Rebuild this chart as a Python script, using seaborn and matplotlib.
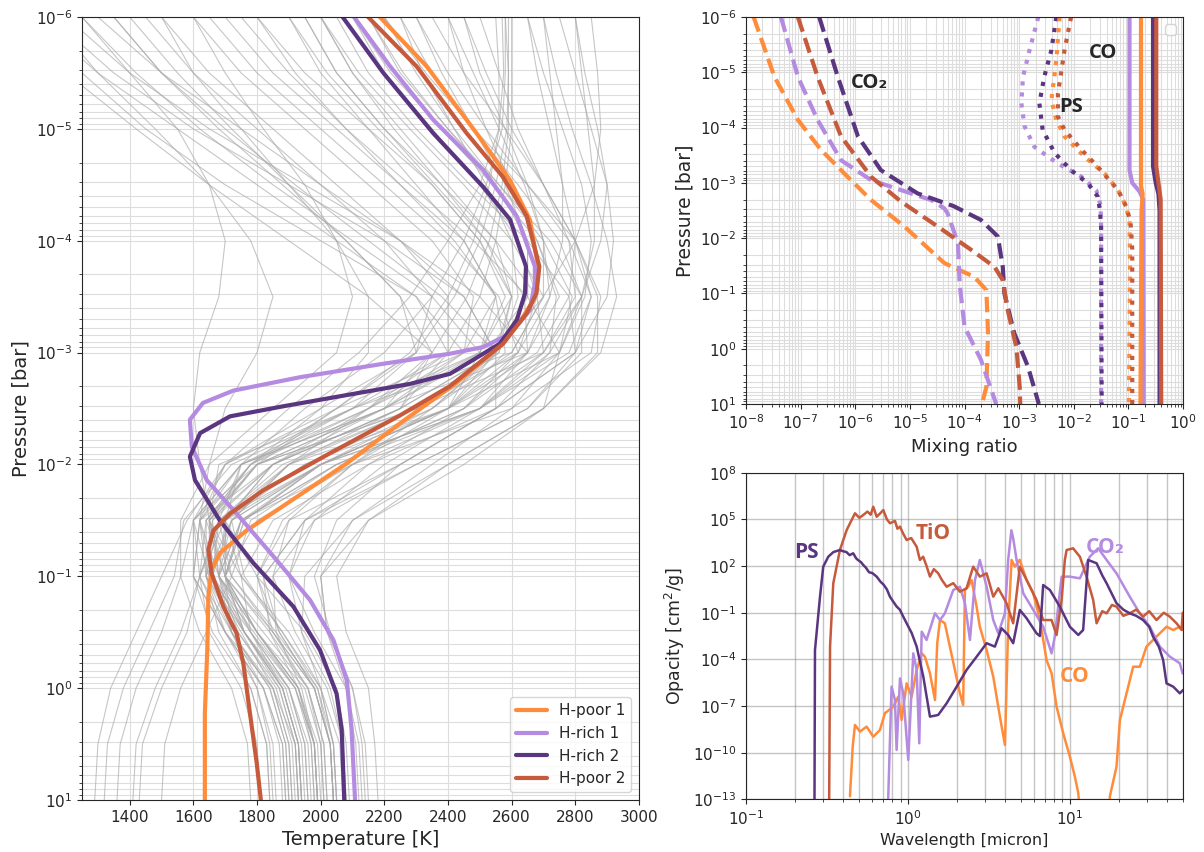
import numpy as np
import pandas as pd
import seaborn as sns
import matplotlib.pyplot as plt
from matplotlib.ticker import LogLocator, NullLocator, NullFormatter

# temperature-pressure profiles (log10 P [bar], T [K])
poor1_logp = [-6, -5.56, -4.96, -4.54, -4.19, -3.77, -3.47, -3.32, -3.08, -2.73, -2.40, -2.01, -1.71, -1.41, -1.21, -1.06, -0.82, -0.37, 0.23, 1.0]
poor1_T = [2186, 2333, 2490, 2595, 2657, 2683, 2668, 2636, 2573, 2427, 2265, 2082, 1925, 1767, 1684, 1657, 1647, 1644, 1636, 1636]
rich1_logp = [-6, -5.56, -5.08, -4.63, -4.22, -3.77, -3.62, -3.38, -3.17, -3.05, -2.99, -2.90, -2.78, -2.66, -2.55, -2.40, -2.16, -1.86, -1.56, -1.18, -0.79, -0.43, -0.07, 0.37, 1.0]
rich1_T = [2105, 2218, 2354, 2511, 2616, 2673, 2673, 2657, 2595, 2511, 2406, 2196, 1935, 1725, 1630, 1589, 1595, 1642, 1736, 1851, 1966, 2040, 2082, 2097, 2108]
rich2_logp = [-6, -5.5, -4.96, -4.48, -4.19, -3.77, -3.53, -3.29, -3.08, -2.81, -2.72, -2.62, -2.52, -2.43, -2.28, -2.07, -1.86, -1.5, -1.12, -0.73, -0.34, 0.05, 0.37, 1.0]
rich2_T = [2069, 2197, 2354, 2511, 2595, 2645, 2642, 2616, 2563, 2406, 2280, 2081, 1882, 1715, 1621, 1589, 1605, 1683, 1788, 1914, 1998, 2050, 2066, 2074]
poor2_logp = [-6, -5.56, -4.96, -4.57, -4.22, -3.77, -3.53, -3.35, -3.08, -2.70, -2.43, -2.10, -1.77, -1.56, -1.41, -1.24, -1.03, -0.73, -0.49, -0.22, 0.23, 0.67, 1.0]
poor2_T = [2149, 2301, 2459, 2573, 2647, 2687, 2678, 2647, 2573, 2406, 2244, 2029, 1820, 1715, 1663, 1647, 1657, 1694, 1736, 1757, 1778, 1799, 1812]

# background ensemble of profiles, sampled every half decade
grey_logp = [-6, -5.5, -5, -4.5, -4, -3.5, -3, -2.5, -2, -1.5, -1, -0.5, 0, 0.5, 1]
grey_profiles = [
    [2100, 2220, 2380, 2540, 2680, 2750, 2650, 2200, 1750, 1700, 1800, 1950, 2050, 2080, 2090],
    [2000, 2120, 2280, 2450, 2600, 2700, 2600, 2100, 1680, 1650, 1750, 1900, 2000, 2040, 2050],
    [2250, 2350, 2480, 2620, 2750, 2820, 2750, 2400, 1900, 1720, 1760, 1880, 1990, 2030, 2040],
    [1900, 2020, 2180, 2350, 2500, 2600, 2550, 2250, 1850, 1650, 1650, 1750, 1850, 1900, 1910],
    [2200, 2330, 2480, 2650, 2800, 2880, 2850, 2600, 2100, 1750, 1700, 1800, 1950, 2000, 2010],
    [2350, 2450, 2580, 2700, 2800, 2850, 2780, 2500, 2000, 1680, 1620, 1700, 1850, 1920, 1930],
    [1800, 1950, 2150, 2350, 2500, 2580, 2500, 2100, 1750, 1620, 1640, 1760, 1900, 1960, 1970],
    [2500, 2560, 2620, 2700, 2780, 2800, 2700, 2300, 1800, 1600, 1600, 1700, 1820, 1880, 1890],
    [1150, 1350, 1600, 1900, 2200, 2450, 2550, 2300, 1800, 1650, 1700, 1850, 1980, 2030, 2040],
    [1100, 1250, 1450, 1700, 2000, 2300, 2450, 2200, 1750, 1600, 1650, 1780, 1900, 1950, 1960],
    [1200, 1400, 1650, 1950, 2250, 2500, 2650, 2500, 2000, 1700, 1680, 1780, 1920, 1980, 1990],
    [1000, 1200, 1420, 1650, 1900, 2150, 2350, 2250, 1850, 1620, 1600, 1700, 1820, 1880, 1890],
    [1300, 1500, 1750, 2000, 2250, 2450, 2550, 2400, 1950, 1680, 1640, 1700, 1800, 1850, 1860],
    [1150, 1300, 1480, 1650, 1780, 1850, 1800, 1700, 1650, 1620, 1680, 1820, 1960, 2010, 2020],
    [1250, 1400, 1550, 1650, 1700, 1680, 1620, 1600, 1620, 1650, 1720, 1860, 1990, 2040, 2050],
    [1400, 1550, 1720, 1900, 2080, 2250, 2350, 2200, 1850, 1700, 1750, 1880, 2000, 2060, 2070],
    [2580, 2580, 2570, 2520, 2450, 2350, 2200, 1950, 1750, 1680, 1720, 1850, 1980, 2030, 2040],
    [2590, 2590, 2585, 2550, 2500, 2420, 2300, 2050, 1800, 1660, 1680, 1800, 1930, 1990, 2000],
    [2570, 2575, 2560, 2500, 2400, 2280, 2120, 1900, 1700, 1620, 1660, 1790, 1920, 1980, 1990],
    [2600, 2600, 2600, 2580, 2550, 2500, 2400, 2150, 1850, 1700, 1700, 1800, 1920, 1970, 1980],
    [2750, 2800, 2850, 2900, 2920, 2900, 2800, 2550, 2250, 2050, 1980, 2030, 2100, 2130, 2140],
    [2800, 2830, 2870, 2900, 2880, 2820, 2700, 2450, 2150, 1950, 1900, 1980, 2080, 2120, 2130],
    [2700, 2740, 2790, 2850, 2900, 2930, 2880, 2700, 2400, 2150, 2050, 2080, 2150, 2170, 2180],
    [2650, 2700, 2760, 2820, 2850, 2830, 2750, 2600, 2350, 2100, 2000, 2020, 2080, 2110, 2120],
    [2850, 2870, 2880, 2860, 2800, 2700, 2550, 2350, 2100, 1900, 1850, 1920, 2020, 2070, 2080],
    [1700, 1850, 2050, 2250, 2450, 2550, 2450, 2050, 1700, 1580, 1500, 1420, 1340, 1300, 1290],
    [2000, 2100, 2250, 2400, 2550, 2600, 2500, 2150, 1750, 1600, 1560, 1500, 1420, 1370, 1360],
    [1500, 1650, 1850, 2050, 2250, 2400, 2400, 2100, 1720, 1570, 1540, 1460, 1380, 1330, 1320],
    [2150, 2250, 2400, 2550, 2650, 2650, 2520, 2200, 1800, 1640, 1620, 1580, 1500, 1440, 1430],
    [1600, 1750, 1950, 2150, 2350, 2480, 2450, 2150, 1780, 1640, 1700, 1840, 1960, 2000, 2010],
    [2300, 2380, 2480, 2580, 2650, 2650, 2550, 2250, 1850, 1660, 1640, 1720, 1840, 1890, 1900],
    [1950, 2050, 2200, 2380, 2550, 2680, 2700, 2500, 2050, 1750, 1700, 1780, 1900, 1950, 1960],
    [2450, 2500, 2580, 2650, 2700, 2700, 2600, 2350, 1950, 1700, 1620, 1650, 1750, 1800, 1810],
    [1350, 1500, 1700, 1920, 2150, 2380, 2550, 2550, 2250, 1900, 1800, 1870, 1980, 2030, 2040],
    [1750, 1900, 2080, 2280, 2480, 2650, 2750, 2700, 2450, 2150, 2000, 2020, 2100, 2140, 2150],
    [2050, 2150, 2300, 2470, 2650, 2780, 2800, 2650, 2300, 1950, 1820, 1870, 1980, 2030, 2040],
    [1450, 1600, 1800, 2000, 2200, 2350, 2300, 2000, 1700, 1600, 1620, 1720, 1850, 1900, 1910],
    [2400, 2480, 2560, 2640, 2700, 2720, 2650, 2400, 2000, 1750, 1680, 1720, 1820, 1870, 1880],
    [1600, 1700, 1820, 1950, 2050, 2100, 2050, 1850, 1650, 1560, 1560, 1620, 1720, 1770, 1780],
    [2200, 2300, 2420, 2560, 2700, 2790, 2750, 2500, 2100, 1800, 1700, 1720, 1800, 1840, 1850],
    [1900, 2000, 2150, 2300, 2450, 2550, 2500, 2200, 1800, 1650, 1680, 1800, 1930, 1980, 1990],
    [2300, 2400, 2520, 2650, 2780, 2850, 2800, 2550, 2150, 1850, 1750, 1780, 1880, 1930, 1940],
    [1250, 1420, 1620, 1850, 2100, 2350, 2500, 2400, 2000, 1720, 1660, 1720, 1840, 1890, 1900],
    [2550, 2560, 2560, 2530, 2480, 2400, 2280, 2050, 1780, 1640, 1640, 1740, 1870, 1920, 1930],
    [2650, 2680, 2720, 2760, 2800, 2780, 2680, 2400, 2000, 1760, 1700, 1760, 1880, 1930, 1940],
    [2100, 2200, 2350, 2500, 2620, 2680, 2620, 2300, 1880, 1680, 1660, 1760, 1890, 1940, 1950],
    [1100, 1300, 1550, 1800, 2050, 2300, 2400, 2250, 1900, 1700, 1700, 1800, 1930, 1980, 1990],
    [2400, 2450, 2520, 2600, 2680, 2740, 2720, 2550, 2250, 1950, 1820, 1840, 1930, 1970, 1980],
    [1800, 1920, 2080, 2250, 2420, 2550, 2580, 2400, 2000, 1720, 1640, 1680, 1780, 1830, 1840],
    [2000, 2100, 2230, 2380, 2520, 2600, 2560, 2300, 1900, 1680, 1620, 1560, 1480, 1420, 1410],
    [2700, 2720, 2740, 2760, 2760, 2720, 2620, 2400, 2100, 1880, 1800, 1850, 1960, 2010, 2020],
    [1500, 1600, 1750, 1900, 2050, 2150, 2150, 2000, 1780, 1650, 1660, 1760, 1880, 1930, 1940],
    [2250, 2320, 2420, 2520, 2600, 2620, 2560, 2350, 2000, 1760, 1700, 1760, 1870, 1920, 1930],
    [1650, 1800, 2000, 2200, 2400, 2560, 2620, 2450, 2050, 1750, 1680, 1740, 1860, 1910, 1920],
    [2580, 2590, 2590, 2570, 2530, 2460, 2350, 2150, 1900, 1720, 1680, 1760, 1880, 1930, 1940],
    [2800, 2820, 2840, 2860, 2860, 2820, 2720, 2500, 2200, 1980, 1900, 1940, 2030, 2070, 2080],
    [2150, 2260, 2400, 2560, 2720, 2820, 2820, 2650, 2300, 1980, 1850, 1860, 1940, 1980, 1990],
    [1350, 1500, 1680, 1880, 2080, 2250, 2300, 2100, 1780, 1620, 1600, 1660, 1780, 1830, 1840],
    [2450, 2520, 2600, 2700, 2800, 2870, 2870, 2700, 2400, 2100, 1950, 1940, 2000, 2040, 2050],
    [1950, 2050, 2200, 2360, 2520, 2640, 2650, 2450, 2050, 1780, 1720, 1640, 1560, 1510, 1500],
]

# mixing ratios (log10 X, log10 P)
co2_poor1_x = [-7.86, -7.48, -7.05, -6.63, -6.14, -5.71, -5.10, -4.37, -3.82, -3.60, -3.57, -3.60, -3.68]
co2_poor1_p = [-6, -4.92, -4.14, -3.6, -3.11, -2.69, -2.21, -1.55, -1.30, -1.06, -0.28, 0.69, 1.0]
co2_rich1_x = [-7.36, -7.05, -6.69, -6.26, -5.71, -4.98, -4.61, -4.37, -4.31, -4.12, -4.09, -4.0, -3.70, -3.42]
co2_rich1_p = [-6, -4.92, -4.14, -3.41, -3.05, -2.81, -2.69, -2.54, -2.45, -1.91, -1.18, -0.40, 0.20, 1.0]
co2_rich2_x = [-6.66, -6.32, -5.95, -5.53, -4.86, -4.2, -3.70, -3.39, -3.30, -3.27, -3.09, -2.84, -2.64]
co2_rich2_p = [-6, -4.92, -3.84, -3.23, -2.81, -2.58, -2.33, -2.03, -1.48, -1.00, -0.28, 0.32, 1.0]
co2_poor2_x = [-7.05, -6.69, -6.26, -5.71, -5.16, -4.49, -3.88, -3.45, -3.30, -3.21, -3.05, -2.99, -2.98]
co2_poor2_p = [-6, -4.92, -3.84, -3.11, -2.66, -2.21, -1.79, -1.48, -1.24, -0.70, -0.02, 0.69, 1.0]
ps_poor1_x = [-2.26, -2.32, -2.41, -2.32, -2.17, -1.80, -1.44, -1.19, -1.04, -0.98, -0.97, -0.99]
ps_poor1_p = [-6, -5.22, -4.50, -4.14, -3.84, -3.47, -3.17, -2.87, -2.57, -2.3, -1.5, 1.0]
ps_rich1_x = [-2.65, -2.81, -2.93, -2.96, -2.90, -2.72, -2.29, -1.86, -1.59, -1.51, -1.50, -1.50]
ps_rich1_p = [-6, -5.40, -4.92, -4.44, -4.02, -3.65, -3.35, -3.11, -2.87, -2.6, -2.2, 1.0]
ps_rich2_x = [-2.32, -2.41, -2.54, -2.63, -2.57, -2.35, -2.05, -1.74, -1.56, -1.52, -1.50, -1.49]
ps_rich2_p = [-6, -5.40, -4.92, -4.44, -3.96, -3.54, -3.23, -2.99, -2.75, -2.5, -2.2, 1.0]
ps_poor2_x = [-2.05, -2.17, -2.29, -2.29, -2.17, -1.86, -1.56, -1.19, -1.03, -0.96, -0.93, -0.93]
ps_poor2_p = [-6, -5.40, -4.62, -4.20, -3.96, -3.60, -3.29, -2.87, -2.55, -2.27, -1.8, 1.0]
co_poor1_x = [-0.77, -0.77, -0.74, -0.76, -0.78]
co_poor1_p = [-6, -2.95, -2.8, -2.5, 1.0]
co_rich1_x = [-0.98, -0.98, -0.93, -0.80, -0.73, -0.72]
co_rich1_p = [-6, -3.23, -3.0, -2.85, -2.7, 1.0]
co_rich2_x = [-0.55, -0.55, -0.50, -0.45, -0.43, -0.43]
co_rich2_p = [-6, -3.3, -3.0, -2.8, -2.5, 1.0]
co_poor2_x = [-0.49, -0.49, -0.45, -0.41, -0.40]
co_poor2_p = [-6, -3.3, -3.0, -2.7, 1.0]

# opacities (log10 wavelength [micron], log10 kappa [cm2/g])
ps_wl = [-0.578, -0.574, -0.543, -0.523, -0.492, -0.46, -0.420, -0.40, -0.38, -0.36, -0.338, -0.32, -0.31, -0.29,
         -0.276, -0.26, -0.24, -0.22, -0.193, -0.17, -0.15, -0.13, -0.111, -0.09, -0.07, -0.05, -0.029, -0.008,
         0.023, 0.054, 0.095, 0.136, 0.187, 0.239, 0.301, 0.362, 0.424, 0.486, 0.537, 0.578,
         0.619, 0.650, 0.691, 0.733, 0.794, 0.815, 0.835, 0.877, 0.938, 1.0, 1.052, 1.082, 1.113, 1.165, 1.20, 1.227,
         1.26, 1.288, 1.33, 1.370, 1.41, 1.452, 1.49, 1.514, 1.55, 1.576, 1.597, 1.638, 1.679, 1.699]
ps_k = [-16, -3.4, 0.03, 1.96, 2.6, 2.9, 3.03, 2.95, 2.9, 2.7, 2.82, 2.5, 2.4, 2.25,
        2.07, 1.9, 1.6, 1.55, 1.32, 1.0, 0.8, 0.5, 0.03, -0.3, -0.6, -0.8, -1.25, -1.68,
        -2.3, -3.18, -5.11, -7.68, -7.57, -6.82, -5.75, -4.68, -3.83, -2.96, -3.18, -2.0,
        -2.43, -2.96, -0.82, -1.36, -2.32, -2.5, 0.78, 0.46, -0.61, -1.90, -2.43, -2.11, 2.39, 2.18, 1.4, 0.89,
        0.2, -0.39, -0.8, -1.04, -1.2, -1.47, -1.9, -2.54, -3.2, -4.04, -5.54, -5.75, -6.18, -5.97]
tio_wl = [-0.488, -0.481, -0.461, -0.420, -0.378, -0.327, -0.30, -0.276, -0.25, -0.23, -0.214, -0.193, -0.17, -0.152,
          -0.13, -0.111, -0.08, -0.065, -0.049, -0.03, -0.008, 0.02, 0.054, 0.074, 0.094, 0.115, 0.136, 0.16, 0.187,
          0.21, 0.239, 0.28, 0.321, 0.362, 0.403, 0.444, 0.486, 0.527,
          0.558, 0.609, 0.650, 0.691, 0.733, 0.794, 0.835, 0.887, 0.918, 0.949, 0.969, 0.980, 1.020, 1.062, 1.103,
          1.144, 1.165, 1.20, 1.227, 1.26, 1.288, 1.33, 1.370, 1.41, 1.452, 1.49, 1.535, 1.58, 1.617, 1.659, 1.690, 1.697]
tio_k = [-16, -3.18, 0.89, 3.03, 4.32, 5.39, 5.1, 5.28, 5.5, 5.3, 5.81, 5.17, 5.4, 5.6,
         5.0, 4.75, 4.9, 4.4, 4.53, 4.1, 3.67, 3.8, 3.24, 2.39, 2.6, 2.0, 1.32, 1.8, 1.53,
         1.1, 0.67, 0.9, 0.35, 0.57, 1.96, 1.32, 1.53, 0.03,
         0.57, -0.39, -1.68, 1.96, 1.10, -0.18, -1.47, -1.47, -2.43, -0.18, 2.39, 3.03, 3.14, 2.6, 1.32,
         -0.18, -1.68, -0.9, -1.04, -0.5, -0.61, -1.2, -1.04, -0.8, -1.25, -0.9, -1.47, -1.0, -1.25, -1.68, -2.11, -1.0]
co2_wl = [-0.123, -0.122, -0.101, -0.080, -0.070, -0.049, -0.029, 0.002, 0.033, 0.054, 0.070, 0.085, 0.115, 0.167,
          0.198, 0.228, 0.280, 0.321, 0.352, 0.383, 0.414, 0.444, 0.486, 0.527, 0.558, 0.599, 0.619, 0.639, 0.650,
          0.671, 0.712, 0.774, 0.835, 0.887, 0.907, 0.949, 1.0, 1.062, 1.123, 1.175, 1.227, 1.288, 1.370, 1.432,
          1.494, 1.556, 1.617, 1.679, 1.696]
co2_k = [-16, -13.0, -5.75, -6.61, -9.82, -5.22, -6.18, -10.46, -3.61, -4.68, -9.39, -2.22, -2.75, -1.04,
         -1.47, -1.04, 0.46, 0.67, -0.39, -2.75, 1.10, 2.39, 0.67, -1.47, -2.32, -1.04, 2.39, 4.3, 3.78,
         2.39, 0.25, -0.82, -1.90, -3.61, -2.54, 1.32, 1.32, 1.21, 2.6, 3.14, 2.39, 1.53, 0.03, -1.04,
         -1.9, -3.18, -3.82, -4.25, -4.9]
co_wl = [-0.358, -0.341, -0.327, -0.296, -0.255, -0.214, -0.173, -0.142, -0.091, -0.060, -0.039, -0.008, 0.023,
         0.054, 0.085, 0.105, 0.136, 0.167, 0.181, 0.198, 0.228, 0.259, 0.290, 0.321, 0.341, 0.352, 0.372, 0.393,
         0.424, 0.444, 0.486, 0.527, 0.568, 0.599, 0.619, 0.640, 0.660, 0.690, 0.733, 0.774, 0.815, 0.856, 0.887,
         0.918, 0.959, 1.0, 1.031, 1.052, 1.08, 1.24, 1.247, 1.288, 1.309, 1.350, 1.391, 1.432, 1.473, 1.514,
         1.556, 1.597, 1.638, 1.679, 1.697]
co_k = [-12.8, -9.6, -8.21, -8.64, -8.32, -8.97, -8.54, -7.46, -7.04, -6.40, -7.89, -5.54, -6.40,
        -4.68, -3.61, -3.83, -4.89, -6.61, -2.96, -1.47, -1.68, -3.18, -4.68, -6.18, -6.93, 0.46, 0.67, 1.10,
        -0.61, -1.90, -3.40, -5.11, -7.68, -9.50, -1.90, 2.39, 1.96, 2.4, 1.10, 0.25, -1.47, -4.04, -4.89,
        -7.04, -8.75, -10.25, -11.54, -12.6, -16, -16, -12.8, -10.9, -7.89, -6.18, -4.47, -4.47, -3.18, -2.75,
        -2.32, -1.9, -2.11, -1.9, -2.1]

c_poor1 = '#ff8c3b'
c_rich1 = '#b48be0'
c_rich2 = '#5b3680'
c_poor2 = '#c65a3c'
ann_font = ['Open Sans', 'DejaVu Sans']

sns.set_style('ticks')
plt.rcParams['font.family'] = ['DejaVu Sans']
plt.rcParams['xtick.labelsize'] = 11
plt.rcParams['ytick.labelsize'] = 11

fig = plt.figure(figsize=(12.04, 8.52), dpi=100)
ax1 = fig.add_axes([0.0681, 0.0610, 0.4626, 0.9190])
ax2 = fig.add_axes([0.6196, 0.5258, 0.3630, 0.4542])
ax3 = fig.add_axes([0.6196, 0.0617, 0.3630, 0.3835])

# ---- left: T-P profiles ----
ax1.set_yscale('log')
grey = pd.DataFrame([(i, t, 10.0 ** p) for i, prof in enumerate(grey_profiles)
                     for t, p in zip(prof, grey_logp)], columns=['id', 'T', 'P'])
sns.lineplot(data=grey, x='T', y='P', units='id', estimator=None, sort=False,
             color='#a8a8a8', lw=0.8, alpha=0.65, legend=False, ax=ax1)
for T, lp, c, name in [(poor1_T, poor1_logp, c_poor1, 'H-poor 1'),
                       (rich1_T, rich1_logp, c_rich1, 'H-rich 1'),
                       (rich2_T, rich2_logp, c_rich2, 'H-rich 2'),
                       (poor2_T, poor2_logp, c_poor2, 'H-poor 2')]:
    sns.lineplot(x=T, y=10.0 ** np.array(lp), sort=False, estimator=None,
                 color=c, lw=3, label=name, ax=ax1)
ax1.set_xlim(1250, 3000)
ax1.set_ylim(10, 1e-6)
ax1.set_xticks(range(1400, 3001, 200))
ax1.yaxis.set_major_locator(LogLocator(base=10, numticks=20))
ax1.yaxis.set_minor_locator(LogLocator(base=10, subs=np.arange(2, 10), numticks=20))
ax1.yaxis.set_minor_formatter(NullFormatter())
ax1.grid(which='both', color='#dddddd', lw=0.8)
ax1.set_axisbelow(True)
ax1.set_xlabel('Temperature [K]', fontsize=14)
ax1.set_ylabel('Pressure [bar]', fontsize=14)
ax1.legend(loc='lower right', fontsize=11)

# ---- top right: mixing ratios ----
ax2.set_xscale('log')
ax2.set_yscale('log')
mix = [(co2_poor1_x, co2_poor1_p, c_poor1, '--'), (co2_rich1_x, co2_rich1_p, c_rich1, '--'),
       (co2_rich2_x, co2_rich2_p, c_rich2, '--'), (co2_poor2_x, co2_poor2_p, c_poor2, '--'),
       (ps_rich1_x, ps_rich1_p, c_rich1, ':'), (ps_rich2_x, ps_rich2_p, c_rich2, ':'),
       (ps_poor1_x, ps_poor1_p, c_poor1, ':'), (ps_poor2_x, ps_poor2_p, c_poor2, ':'),
       (co_rich1_x, co_rich1_p, c_rich1, '-'), (co_poor1_x, co_poor1_p, c_poor1, '-'),
       (co_rich2_x, co_rich2_p, c_rich2, '-'), (co_poor2_x, co_poor2_p, c_poor2, '-')]
for lx, lp, c, ls in mix:
    sns.lineplot(x=10.0 ** np.array(lx), y=10.0 ** np.array(lp), sort=False, estimator=None,
                 color=c, lw=3, linestyle=ls, ax=ax2)
ax2.set_xlim(1e-8, 1)
ax2.set_ylim(10, 1e-6)
for axis in (ax2.xaxis, ax2.yaxis):
    axis.set_major_locator(LogLocator(base=10, numticks=20))
    axis.set_minor_locator(LogLocator(base=10, subs=np.arange(2, 10), numticks=20))
    axis.set_minor_formatter(NullFormatter())
ax2.grid(which='both', color='#dddddd', lw=0.8)
ax2.set_axisbelow(True)
ax2.set_xlabel('Mixing ratio', fontsize=13)
ax2.set_ylabel('Pressure [bar]', fontsize=13.5)
ax2.legend(handles=[], loc='upper right')
ax2.text(10 ** -6.08, 10 ** -4.81, 'CO₂', fontsize=14.5, fontweight='bold', family=ann_font, va='center')
ax2.text(10 ** -2.27, 10 ** -4.37, 'PS', fontsize=14.5, fontweight='bold', family=ann_font, va='center')
ax2.text(10 ** -1.72, 10 ** -5.35, 'CO', fontsize=14.5, fontweight='bold', family=ann_font, va='center')

# ---- bottom right: opacities ----
ax3.set_xscale('log')
ax3.set_yscale('log')
for wl, k, c in [(co_wl, co_k, c_poor1), (co2_wl, co2_k, c_rich1),
                 (tio_wl, tio_k, c_poor2), (ps_wl, ps_k, c_rich2)]:
    sns.lineplot(x=10.0 ** np.array(wl), y=10.0 ** np.array(k), sort=False, estimator=None,
                 color=c, lw=1.8, ax=ax3)
ax3.set_xlim(0.1, 50)
ax3.set_ylim(1e-13, 1e8)
ax3.set_yticks([1e-13, 1e-10, 1e-7, 1e-4, 1e-1, 1e2, 1e5, 1e8])
ax3.yaxis.set_minor_locator(NullLocator())
ax3.xaxis.set_minor_locator(LogLocator(base=10, subs=np.arange(2, 10), numticks=20))
ax3.xaxis.set_minor_formatter(NullFormatter())
ax3.grid(which='both', color='grey', alpha=0.45, lw=1.0)
ax3.set_axisbelow(True)
ax3.set_xlabel('Wavelength [micron]', fontsize=11.5)
ax3.set_ylabel('Opacity [cm$^2$/g]', fontsize=12.5)
ax3.text(10 ** -0.704, 10 ** 2.9, 'PS', color=c_rich2, fontsize=15, fontweight='bold', family=ann_font, va='center')
ax3.text(10 ** 0.049, 10 ** 4.06, 'TiO', color=c_poor2, fontsize=15, fontweight='bold', family=ann_font, va='center')
ax3.text(10 ** 1.099, 10 ** 3.16, 'CO₂', color=c_rich1, fontsize=15, fontweight='bold', family=ann_font, va='center')
ax3.text(10 ** 0.938, 10 ** -5.13, 'CO', color=c_poor1, fontsize=15, fontweight='bold', family=ann_font, va='center')

fig.savefig('out.png', dpi=100)
